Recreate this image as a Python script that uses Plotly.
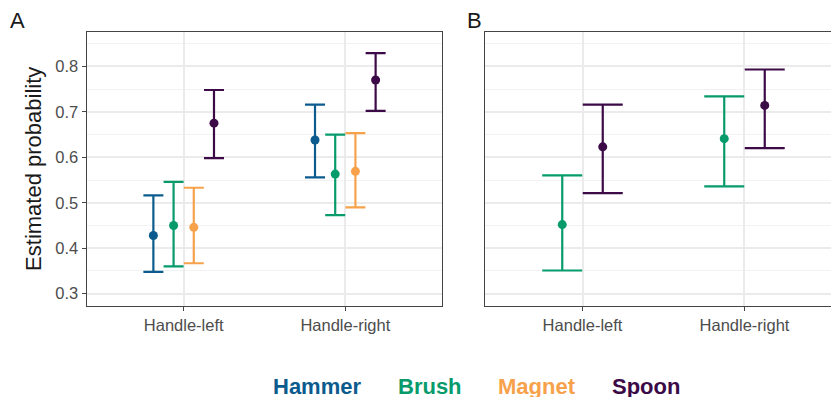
import plotly.graph_objects as go

# Conditions on the x axis
conditions = ["Handle-left", "Handle-right"]

# Panel A: all four objects
objects_a = ["Hammer", "Brush", "Magnet", "Spoon"]
est_a = {
    "Hammer": [0.428, 0.638],
    "Brush": [0.450, 0.563],
    "Magnet": [0.446, 0.569],
    "Spoon": [0.675, 0.770],
}
lo_a = {
    "Hammer": [0.348, 0.556],
    "Brush": [0.360, 0.473],
    "Magnet": [0.367, 0.490],
    "Spoon": [0.598, 0.702],
}
hi_a = {
    "Hammer": [0.516, 0.716],
    "Brush": [0.546, 0.650],
    "Magnet": [0.533, 0.653],
    "Spoon": [0.748, 0.829],
}

# Panel B: two objects
objects_b = ["Brush", "Spoon"]
est_b = {
    "Brush": [0.452, 0.641],
    "Spoon": [0.623, 0.714],
}
lo_b = {
    "Brush": [0.351, 0.536],
    "Spoon": [0.521, 0.620],
}
hi_b = {
    "Brush": [0.560, 0.734],
    "Spoon": [0.716, 0.793],
}

y_ticks = [0.3, 0.4, 0.5, 0.6, 0.7, 0.8]
y_ticktext = ["0.3", "0.4", "0.5", "0.6", "0.7", "0.8"]

colors = {
    "Hammer": "#0B5B8E",
    "Brush": "#079B6C",
    "Magnet": "#F7A24B",
    "Spoon": "#3B0A47",
}

W, H = 831, 397
FONT = "Liberation Sans, Arial, sans-serif"


def px_x(p):
    return p / W


def px_y(p):
    return 1 - p / H


DODGE = 0.5
fig = go.Figure()


def add_panel(objs, est, lo, hi, xa, ya, cap_px):
    n = len(objs)
    for i, name in enumerate(objs):
        off = (i - (n - 1) / 2) * DODGE / n
        xs = [k + 1 + off for k in range(len(conditions))]
        up = [h - m for h, m in zip(hi[name], est[name])]
        dn = [m - l for m, l in zip(est[name], lo[name])]
        fig.add_trace(go.Scatter(
            x=xs, y=est[name], mode="markers", name=name,
            xaxis=xa, yaxis=ya, showlegend=False,
            marker=dict(color=colors[name], size=9),
            error_y=dict(type="data", symmetric=False, array=up, arrayminus=dn,
                         color=colors[name], thickness=2.2, width=cap_px),
        ))


add_panel(objects_a, est_a, lo_a, hi_a, "x", "y", 10)
add_panel(objects_b, est_b, lo_b, hi_b, "x2", "y2", 20)

grid_major = "#EBEBEB"
grid_minor = "#F2F2F2"
border = "#444444"
tickfont = dict(family=FONT, size=16.5, color="#4D4D4D")

y_dom = [px_y(305.7), px_y(32)]
y_range = [0.2736, 0.8755]

xcommon = dict(
    tickmode="array", tickvals=[1, 2], ticktext=conditions,
    showgrid=True, gridcolor=grid_major, gridwidth=1.8,
    showline=True, linecolor=border, linewidth=1.2, mirror=True,
    ticks="outside", ticklen=4, tickwidth=1.2, tickcolor=border,
    tickfont=tickfont, zeroline=False, automargin=False,
)
ycommon = dict(
    range=y_range, domain=y_dom,
    tickmode="array", tickvals=y_ticks,
    showgrid=True, gridcolor=grid_major, gridwidth=1.8,
    minor=dict(showgrid=True, gridcolor=grid_minor, gridwidth=1.1, dtick=0.1, tick0=0.05),
    zeroline=False, automargin=False,
    showline=True, linecolor=border, linewidth=1.2,
)

fig.update_layout(
    width=W, height=H,
    margin=dict(l=0, r=0, t=0, b=0),
    paper_bgcolor="white", plot_bgcolor="white",
    xaxis=dict(domain=[px_x(86.7), px_x(442.3)], range=[0.4, 2.6], anchor="y", **xcommon),
    yaxis=dict(anchor="x", ticktext=y_ticktext, ticks="outside", ticklen=4,
               tickwidth=1.2, tickcolor=border, tickfont=tickfont, mirror=True,
               **ycommon),
    xaxis2=dict(domain=[px_x(485.3), 1.0], range=[0.4, 2.534], anchor="y2", **xcommon),
    yaxis2=dict(anchor="x2", showticklabels=False, ticks="", mirror=False, **ycommon),
    showlegend=False,
)

annotations = [
    dict(text="A", x=px_x(8), y=px_y(20.5), xanchor="left", yanchor="middle",
         font=dict(family=FONT, size=22, color="#1A1A1A")),
    dict(text="B", x=px_x(465), y=px_y(20.5), xanchor="left", yanchor="middle",
         font=dict(family=FONT, size=22, color="#1A1A1A")),
    dict(text="Estimated probability", x=px_x(34), y=px_y(168.9), textangle=-90,
         xanchor="center", yanchor="middle",
         font=dict(family=FONT, size=22, color="#1A1A1A")),
]

# Legend drawn as coloured bold labels along the bottom
legend_centers = [317, 429.5, 536.5, 646]
for name, cx in zip(objects_a, legend_centers):
    annotations.append(dict(
        text=f"<b>{name}</b>", x=px_x(cx), y=px_y(386.5), xanchor="center", yanchor="middle",
        font=dict(family=FONT, size=22, color=colors[name]),
    ))

for a in annotations:
    a.update(xref="paper", yref="paper", showarrow=False)
fig.update_layout(annotations=annotations)

fig.write_html("out.html")
